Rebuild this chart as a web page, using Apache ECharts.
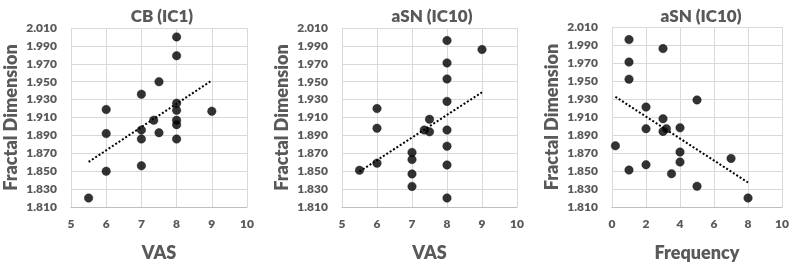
<!DOCTYPE html>
<html>
<head>
<meta charset="utf-8">
<script src="https://cdn.jsdelivr.net/npm/echarts@6/dist/echarts.min.js"></script>
<style>
html,body{margin:0;padding:0;background:#fff;}
#c{width:792px;height:267px;}
</style>
</head>
<body>
<div id="c"></div>
<script>
// Panel titles and axis names
const panelTitles = ['CB (IC1)', 'aSN (IC10)', 'aSN (IC10)'];
const xAxisNames = ['VAS', 'VAS', 'Frequency'];
const yAxisName = 'Fractal Dimension';

// Axis ranges / tick labels
const xMins = [5, 5, 0];
const xMaxs = [10, 10, 10];
const xIntervals = [1, 1, 2];
const yMin = 1.81, yMax = 2.01, yInterval = 0.02;

// Panel 1: CB (IC1) — VAS vs Fractal Dimension
const cbX = [5.5, 6, 6, 6, 7, 7, 7, 7, 7.35, 7.5, 7.5, 8, 8, 8, 8, 8, 8, 8, 9];
const cbY = [1.820, 1.919, 1.892, 1.850, 1.936, 1.896, 1.886, 1.856, 1.907, 1.950, 1.893, 2.000, 1.979, 1.926, 1.918, 1.907, 1.902, 1.886, 1.917];

// Panel 2: aSN (IC10) — VAS vs Fractal Dimension
const asnVasX = [5.5, 6, 6, 6, 7, 7, 7, 7, 7.35, 7.5, 7.5, 8, 8, 8, 8, 8, 8, 8, 8, 9];
const asnVasY = [1.851, 1.920, 1.898, 1.859, 1.871, 1.863, 1.847, 1.833, 1.896, 1.908, 1.894, 1.996, 1.971, 1.953, 1.928, 1.896, 1.878, 1.857, 1.820, 1.986];

// Panel 3: aSN (IC10) — Frequency vs Fractal Dimension
const asnFreqX = [1, 3, 1, 1, 5, 2, 3, 2, 3, 3.2, 4, 0.2, 4, 4, 7, 2, 1, 3.5, 5, 8];
const asnFreqY = [1.996, 1.986, 1.971, 1.952, 1.929, 1.921, 1.908, 1.897, 1.894, 1.897, 1.898, 1.878, 1.871, 1.860, 1.864, 1.857, 1.851, 1.847, 1.833, 1.820];

const panelsX = [cbX, asnVasX, asnFreqX];
const panelsY = [cbY, asnVasY, asnFreqY];

function linFit(xs, ys) {
  const n = xs.length;
  let sx = 0, sy = 0;
  for (let i = 0; i < n; i++) { sx += xs[i]; sy += ys[i]; }
  const mx = sx / n, my = sy / n;
  let sxy = 0, sxx = 0;
  for (let i = 0; i < n; i++) { sxy += (xs[i] - mx) * (ys[i] - my); sxx += (xs[i] - mx) * (xs[i] - mx); }
  const b = sxy / sxx, a = my - b * mx;
  const x0 = Math.min.apply(null, xs), x1 = Math.max.apply(null, xs);
  return [[x0, a + b * x0], [x1, a + b * x1]];
}

const TXT = '#595959';
const FONT = 'Lato';
const grids = [
  {left: 71, top: 28, width: 176, height: 185},
  {left: 342, top: 28, width: 175, height: 185},
  {left: 612, top: 27, width: 172, height: 186}
];
const titleCenters = [157, 427, 696];

const option = {
  animation: false,
  backgroundColor: '#fff',
  textStyle: {fontFamily: FONT},
  title: panelTitles.map((t, i) => ({
    text: t, left: titleCenters[i], top: 3, textAlign: 'center',
    textStyle: {fontFamily: FONT, fontWeight: 800, fontSize: 17, color: TXT}
  })),
  grid: grids,
  xAxis: grids.map((g, i) => ({
    type: 'value', gridIndex: i, min: xMins[i], max: xMaxs[i], interval: xIntervals[i],
    name: xAxisNames[i], nameLocation: 'middle', nameGap: 37,
    nameTextStyle: {fontFamily: FONT, fontWeight: 800, fontSize: 18, color: TXT},
    axisLine: {show: true, lineStyle: {color: '#bfbfbf', width: 1}},
    axisTick: {show: false},
    axisLabel: {fontFamily: FONT, fontWeight: 800, fontSize: 12, color: TXT, margin: 11},
    splitLine: {show: true, lineStyle: {color: '#d9d9d9', width: 1}}
  })),
  yAxis: grids.map((g, i) => ({
    type: 'value', gridIndex: i, min: yMin, max: yMax, interval: yInterval,
    name: yAxisName, nameLocation: 'middle', nameGap: 51, nameRotate: 90,
    nameTextStyle: {fontFamily: FONT, fontWeight: 800, fontSize: 18, color: TXT},
    axisLine: {show: true, lineStyle: {color: '#d9d9d9', width: 1}},
    axisTick: {show: false},
    axisLabel: {fontFamily: FONT, fontWeight: 800, fontSize: 12, color: TXT, margin: 14,
      formatter: v => v.toFixed(3)},
    splitLine: {show: true, lineStyle: {color: '#d9d9d9', width: 1}}
  })),
  series: []
};

panelsX.forEach((xs, i) => {
  const ys = panelsY[i];
  option.series.push({
    type: 'scatter', xAxisIndex: i, yAxisIndex: i,
    data: xs.map((x, k) => [x, ys[k]]),
    symbol: 'circle', symbolSize: 8.5,
    itemStyle: {color: '#000', borderColor: '#111', borderWidth: 0.5},
    z: 3
  });
  option.series.push({
    type: 'line', xAxisIndex: i, yAxisIndex: i,
    data: linFit(xs, ys), symbol: 'none', silent: true,
    lineStyle: {color: '#000', width: 2, type: [2, 2]},
    z: 2
  });
});

const chart = echarts.init(document.getElementById('c'), null, {renderer: 'canvas'});
chart.setOption(option);
</script>
</body>
</html>
